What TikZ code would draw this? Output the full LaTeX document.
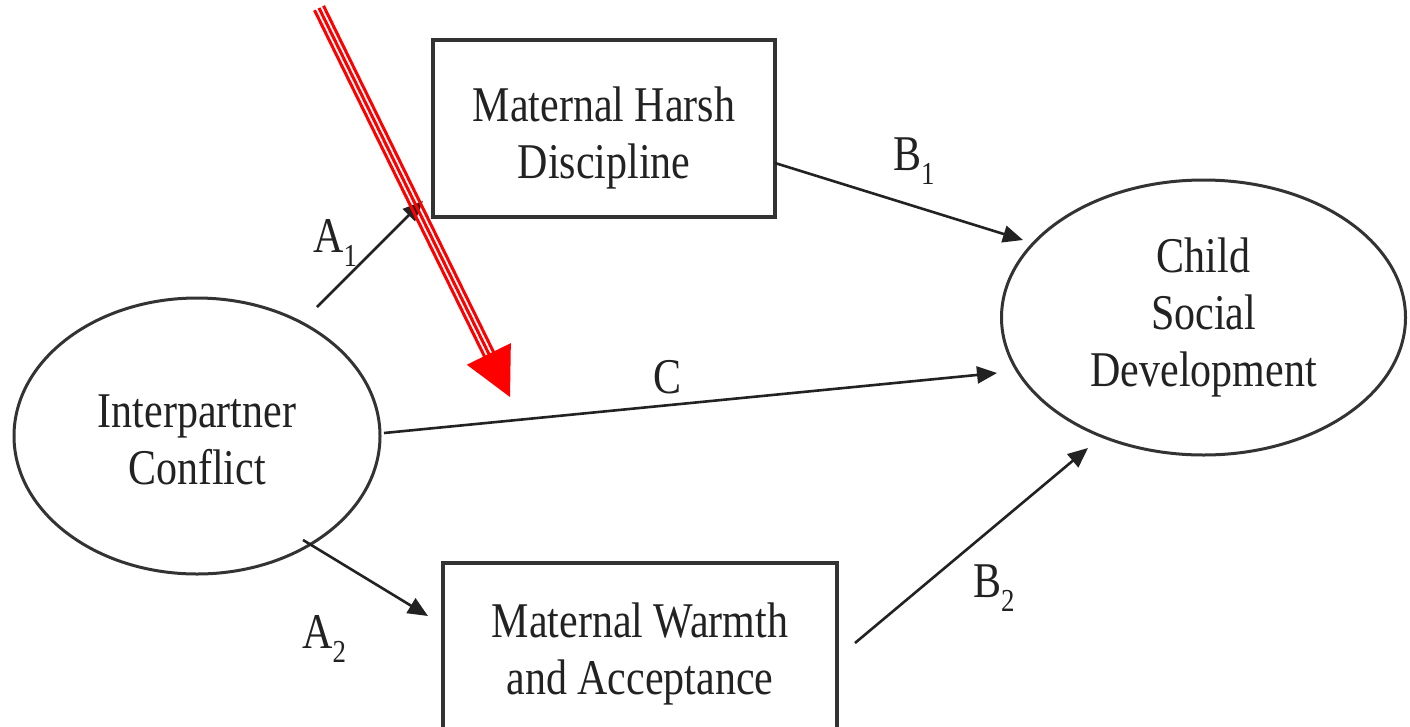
\documentclass[tikz,border=0pt]{standalone}
\usepackage{fontspec}
\setmainfont{Liberation Serif}[FakeStretch=0.84]
\usetikzlibrary{arrows.meta,calc,shapes.geometric}
\newcommand{\lsub}[1]{\raisebox{-14pt}{\fontsize{32}{32}\selectfont #1}}
\definecolor{ink}{HTML}{222222}
\definecolor{edge}{HTML}{333333}
\begin{document}
\begin{tikzpicture}[x=1pt,y=-1pt,
  every node/.style={font=\fontsize{50}{57}\selectfont, text=ink},
  ell/.style={ellipse, draw=edge, line width=3pt, inner sep=0pt, outer sep=0pt, align=center},
  boxnode/.style={rectangle, draw=edge, line width=4pt, inner sep=0pt, outer sep=0pt, align=center},
  conn/.style={draw=ink, line width=2.6pt, -{Triangle[length=20pt,width=17pt]}},
  lbl/.style={anchor=base west, inner sep=0pt},
  redline/.style={draw=red, line width=3pt}]
\fill[white] (0,0) rectangle (1410,726);
\clip (0,0) rectangle (1410,726);

% nodes
\node[ell, minimum width=366pt, minimum height=276pt] (L) at (197,436) {\rule{0pt}{40pt}Interpartner\\Conflict};
\node[ell, minimum width=404pt, minimum height=275pt] (R) at (1203.5,317.5) {Child\\Social\\Development};
\node[boxnode, minimum width=342pt, minimum height=177pt] (T) at (604,128.5) {\rule{0pt}{53pt}Maternal Harsh\\Discipline};
\node[boxnode, minimum width=394pt, minimum height=182pt] (Bc) at (640,654) {Maternal Warmth\\and Acceptance};

% connectors
\draw[conn] ($(L.center)+(120,-129)$) -- ($(T.south west)+(-10,-16)$);
\draw[conn] ($(T.east)+(0,34.5)$) -- ($(R.center)+(-180.5,-77.5)$);
\draw[conn] ($(L.east)+(4,-3)$) -- ($(R.west)+(-4.5,55.5)$);
\draw[conn] ($(L.center)+(106,104)$) -- ($(Bc.north west)+(-15,53)$);
\draw[conn] ($(Bc.north east)+(18,80)$) -- ($(R.center)+(-115.5,130.5)$);

% labels
\node[lbl] (la1) at (313,252) {A\lsub{1}};
\node[lbl] (lb1) at (893,170) {B\lsub{1}};
\node[lbl] (lc) at (653,393) {C};
\node[lbl] (la2) at (302,648) {A\lsub{2}};
\node[lbl] (lb2) at (973,597) {B\lsub{2}};

% red annotation arrow
\coordinate (rs) at (319,8);
\coordinate (rt) at (510,397);
\coordinate (rb) at ($(rt)!48pt!(rs)$);
\coordinate (re) at ($(rt)!42pt!(rs)$);
\coordinate (hl) at ($(rb)+(-22,10.8)$);
\coordinate (hr) at ($(rb)+(22,-10.8)$);
\draw[redline] (rs) -- (re);
\draw[redline] ($(rs)+(4.5,-2.2)$) -- ($(re)+(4.5,-2.2)$);
\draw[redline] ($(rs)+(-4.5,2.2)$) -- ($(re)+(-4.5,2.2)$);
\fill[red] (hl) -- (hr) -- (rt) -- cycle;
\end{tikzpicture}
\end{document}
